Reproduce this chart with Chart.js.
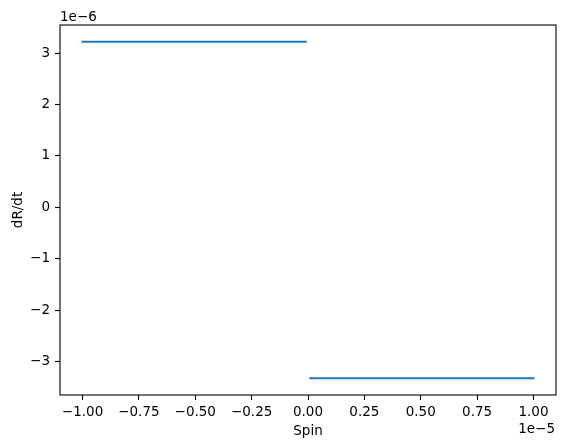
<!DOCTYPE html>
<html>
<head>
<meta charset="utf-8">
<script src="https://cdn.jsdelivr.net/npm/chart.js@4"></script>
<style>
html,body{margin:0;padding:0;background:#fff;}
#wrap{width:565px;height:448px;position:relative;}
</style>
</head>
<body>
<div id="wrap"><canvas id="c" width="565" height="448"></canvas></div>
<script>
// Data
const spinLeft = [-1e-5, -1e-7];
const rateLeft = [3.22e-6, 3.22e-6];
const spinRight = [1e-7, 1e-5];
const rateRight = [-3.32e-6, -3.32e-6];
const xTicks = [-1e-5, -0.75e-5, -0.5e-5, -0.25e-5, 0, 0.25e-5, 0.5e-5, 0.75e-5, 1e-5];
const yTicks = [-3e-6, -2e-6, -1e-6, 0, 1e-6, 2e-6, 3e-6];
const xScaleExp = 1e-5, yScaleExp = 1e-6;

const points = [];
spinLeft.forEach((x,i)=>points.push({x:x,y:rateLeft[i]}));
points.push({x:0,y:null});
spinRight.forEach((x,i)=>points.push({x:x,y:rateRight[i]}));

const FONT = 'DejaVu Sans';
const FS = 13.5;
const minus = s => s.replace('-', '\u2212');

const frame = {
  id:'frame',
  afterDraw(chart){
    const {ctx, chartArea:a} = chart;
    ctx.save();
    ctx.strokeStyle='#000';
    ctx.lineWidth=1.1;
    ctx.strokeRect(a.left, a.top, a.right-a.left, a.bottom-a.top);
    ctx.fillStyle='#000';
    ctx.font = FS+'px "'+FONT+'"';
    ctx.textBaseline='alphabetic';
    ctx.textAlign='left';
    ctx.fillText('1e\u22126', a.left, 21);
    ctx.textAlign='right';
    ctx.fillText('1e\u22125', a.right-1, 433);
    ctx.restore();
  }
};

new Chart(document.getElementById('c'), {
  type:'line',
  data:{datasets:[{
    data:points,
    borderColor:'#1f77b4',
    borderWidth:2,
    pointRadius:0,
    spanGaps:false,
    tension:0,
    borderCapStyle:'square'
  }]},
  options:{
    responsive:false,
    animation:false,
    devicePixelRatio:1,
    layout:{padding:{top:25,right:9,left:0,bottom:0}},
    plugins:{legend:{display:false},tooltip:{enabled:false}},
    scales:{
      x:{
        type:'linear',
        min:-1.1e-5, max:1.1e-5,
        afterFit(s){s.height=53;},
        afterBuildTicks(s){s.ticks=xTicks.map(v=>({value:v}));},
        grid:{drawOnChartArea:false,drawTicks:true,tickLength:5,tickWidth:1.1,tickColor:'#000'},
        border:{display:false},
        ticks:{
          color:'#000',padding:4,maxRotation:0,autoSkip:false,
          font:{family:FONT,size:FS},
          callback:v=>minus((v/xScaleExp).toFixed(2))
        },
        title:{display:true,text:'Spin',color:'#000',font:{family:FONT,size:FS},padding:{top:0,bottom:8}}
      },
      y:{
        type:'linear',
        min:-3.647e-6, max:3.547e-6,
        afterFit(s){s.width=60;},
        afterBuildTicks(s){s.ticks=yTicks.map(v=>({value:v}));},
        grid:{drawOnChartArea:false,drawTicks:true,tickLength:5,tickWidth:1.1,tickColor:'#000'},
        border:{display:false},
        ticks:{
          color:'#000',padding:5,autoSkip:false,
          font:{family:FONT,size:FS},
          callback:v=>minus(String(Math.round(v/yScaleExp)))
        },
        title:{display:true,text:'dR/dt',color:'#000',font:{family:FONT,size:FS},padding:{top:10,bottom:0}}
      }
    }
  },
  plugins:[frame]
});
</script>
</body>
</html>
